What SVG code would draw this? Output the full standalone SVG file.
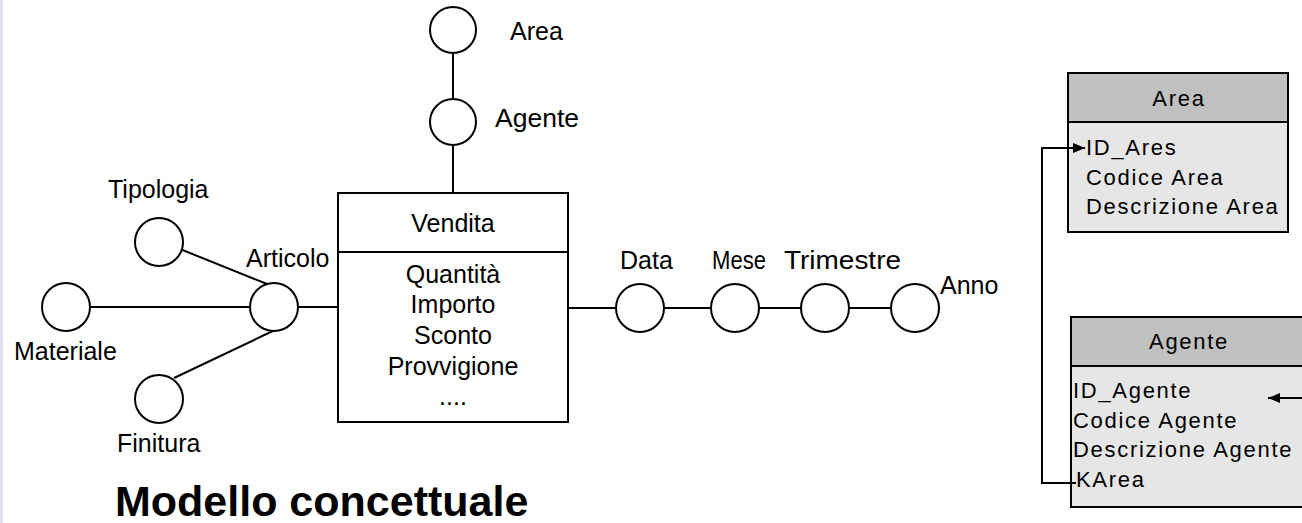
<svg xmlns="http://www.w3.org/2000/svg" width="1302" height="523" viewBox="0 0 1302 523">
<style>
.c{fill:#fff;stroke:#000;stroke-width:2}
.ln{stroke:#000;stroke-width:2;fill:none}
.t{font-family:"Liberation Sans",Arial,sans-serif;font-size:25px;fill:#000}
.m{text-anchor:middle}
.tb{font-family:"Liberation Sans",Arial,sans-serif;font-size:22px;letter-spacing:1.7px;fill:#000}
.hd{fill:#c0c0c0;stroke:#000;stroke-width:2}
.bd{fill:#e6e6e6;stroke:#000;stroke-width:2}
</style>
<defs>
<marker id="ah" markerWidth="12" markerHeight="10" refX="12" refY="5" orient="auto" markerUnits="userSpaceOnUse">
<path d="M0,0 L12,5 L0,10 Z" fill="#000"/>
</marker>
</defs>
<rect x="0" y="0" width="1302" height="523" fill="#fff"/>
<rect x="0" y="0" width="3" height="523" fill="#dde1e8"/>
<g id="connectors">
<line class="ln" x1="453" y1="53" x2="453" y2="99"/>
<line class="ln" x1="453" y1="145" x2="453" y2="193"/>
<line class="ln" x1="180" y1="249" x2="267" y2="284"/>
<line class="ln" x1="90" y1="307" x2="251" y2="307"/>
<line class="ln" x1="174" y1="378" x2="275" y2="330"/>
<line class="ln" x1="298" y1="307" x2="338" y2="307"/>
<line class="ln" x1="568" y1="308" x2="616" y2="308"/>
<line class="ln" x1="664" y1="308" x2="711" y2="308"/>
<line class="ln" x1="759" y1="308" x2="801" y2="308"/>
<line class="ln" x1="849" y1="308" x2="891" y2="308"/>
</g>
<g id="area"><circle class="c" cx="453" cy="30" r="23"/><text class="t" x="510" y="40">Area</text></g>
<g id="agente"><circle class="c" cx="453" cy="122" r="23"/><text class="t" x="495" y="127" textLength="84" lengthAdjust="spacingAndGlyphs">Agente</text></g>
<g id="vendita">
<rect class="c" x="338" y="193" width="230" height="229"/>
<line class="ln" x1="338" y1="252" x2="568" y2="252"/>
<text class="t m" x="453" y="232">Vendita</text>
<text class="t m" x="453" y="283">Quantità</text>
<text class="t m" x="453" y="313">Importo</text>
<text class="t m" x="453" y="344">Sconto</text>
<text class="t m" x="453" y="375">Provvigione</text>
<text class="t m" x="453" y="405">....</text>
</g>
<g id="tipologia"><circle class="c" cx="159" cy="242" r="24"/><text class="t" x="108" y="198">Tipologia</text></g>
<g id="articolo"><circle class="c" cx="274" cy="307" r="24"/><text class="t" x="246" y="267">Articolo</text></g>
<g id="materiale"><circle class="c" cx="66" cy="307" r="24"/><text class="t" x="14" y="360">Materiale</text></g>
<g id="finitura"><circle class="c" cx="159" cy="399" r="24"/><text class="t" x="117" y="452">Finitura</text></g>
<g id="data"><circle class="c" cx="640" cy="308" r="24"/><text class="t" x="620" y="269">Data</text></g>
<g id="mese"><circle class="c" cx="735" cy="308" r="24"/><text class="t" x="712" y="269" textLength="54" lengthAdjust="spacingAndGlyphs">Mese</text></g>
<g id="trimestre"><circle class="c" cx="825" cy="308" r="24"/><text class="t" x="784" y="269" textLength="117" lengthAdjust="spacingAndGlyphs">Trimestre</text></g>
<g id="anno"><circle class="c" cx="915" cy="308" r="24"/><text class="t" x="940" y="294">Anno</text></g>
<g id="title"><text x="115" y="516" font-family="'Liberation Sans',Arial,sans-serif" font-size="43" font-weight="bold" fill="#000">Modello concettuale</text></g>
<g id="table-area">
<rect class="bd" x="1068" y="122" width="220" height="110"/>
<rect class="hd" x="1068" y="73" width="220" height="49"/>
<text class="tb m" x="1179" y="106">Area</text>
<text class="tb" x="1086" y="155">ID_Ares</text>
<text class="tb" x="1086" y="185">Codice Area</text>
<text class="tb" x="1086" y="214">Descrizione Area</text>
</g>
<g id="table-agente">
<rect class="bd" x="1071" y="366" width="240" height="141"/>
<rect class="hd" x="1071" y="317" width="240" height="49"/>
<text class="tb m" x="1189" y="349">Agente</text>
<text class="tb" x="1073" y="398">ID_Agente</text>
<text class="tb" x="1073" y="428">Codice Agente</text>
<text class="tb" x="1073" y="457">Descrizione Agente</text>
<text class="tb" x="1076" y="487">KArea</text>
</g>
<g id="table-connectors">
<polyline class="ln" points="1076,483 1042,483 1042,148 1085,148" marker-end="url(#ah)" stroke-width="1.5"/>
<line class="ln" x1="1302" y1="398" x2="1268" y2="398" marker-end="url(#ah)" stroke-width="1.5"/>
</g>
</svg>
